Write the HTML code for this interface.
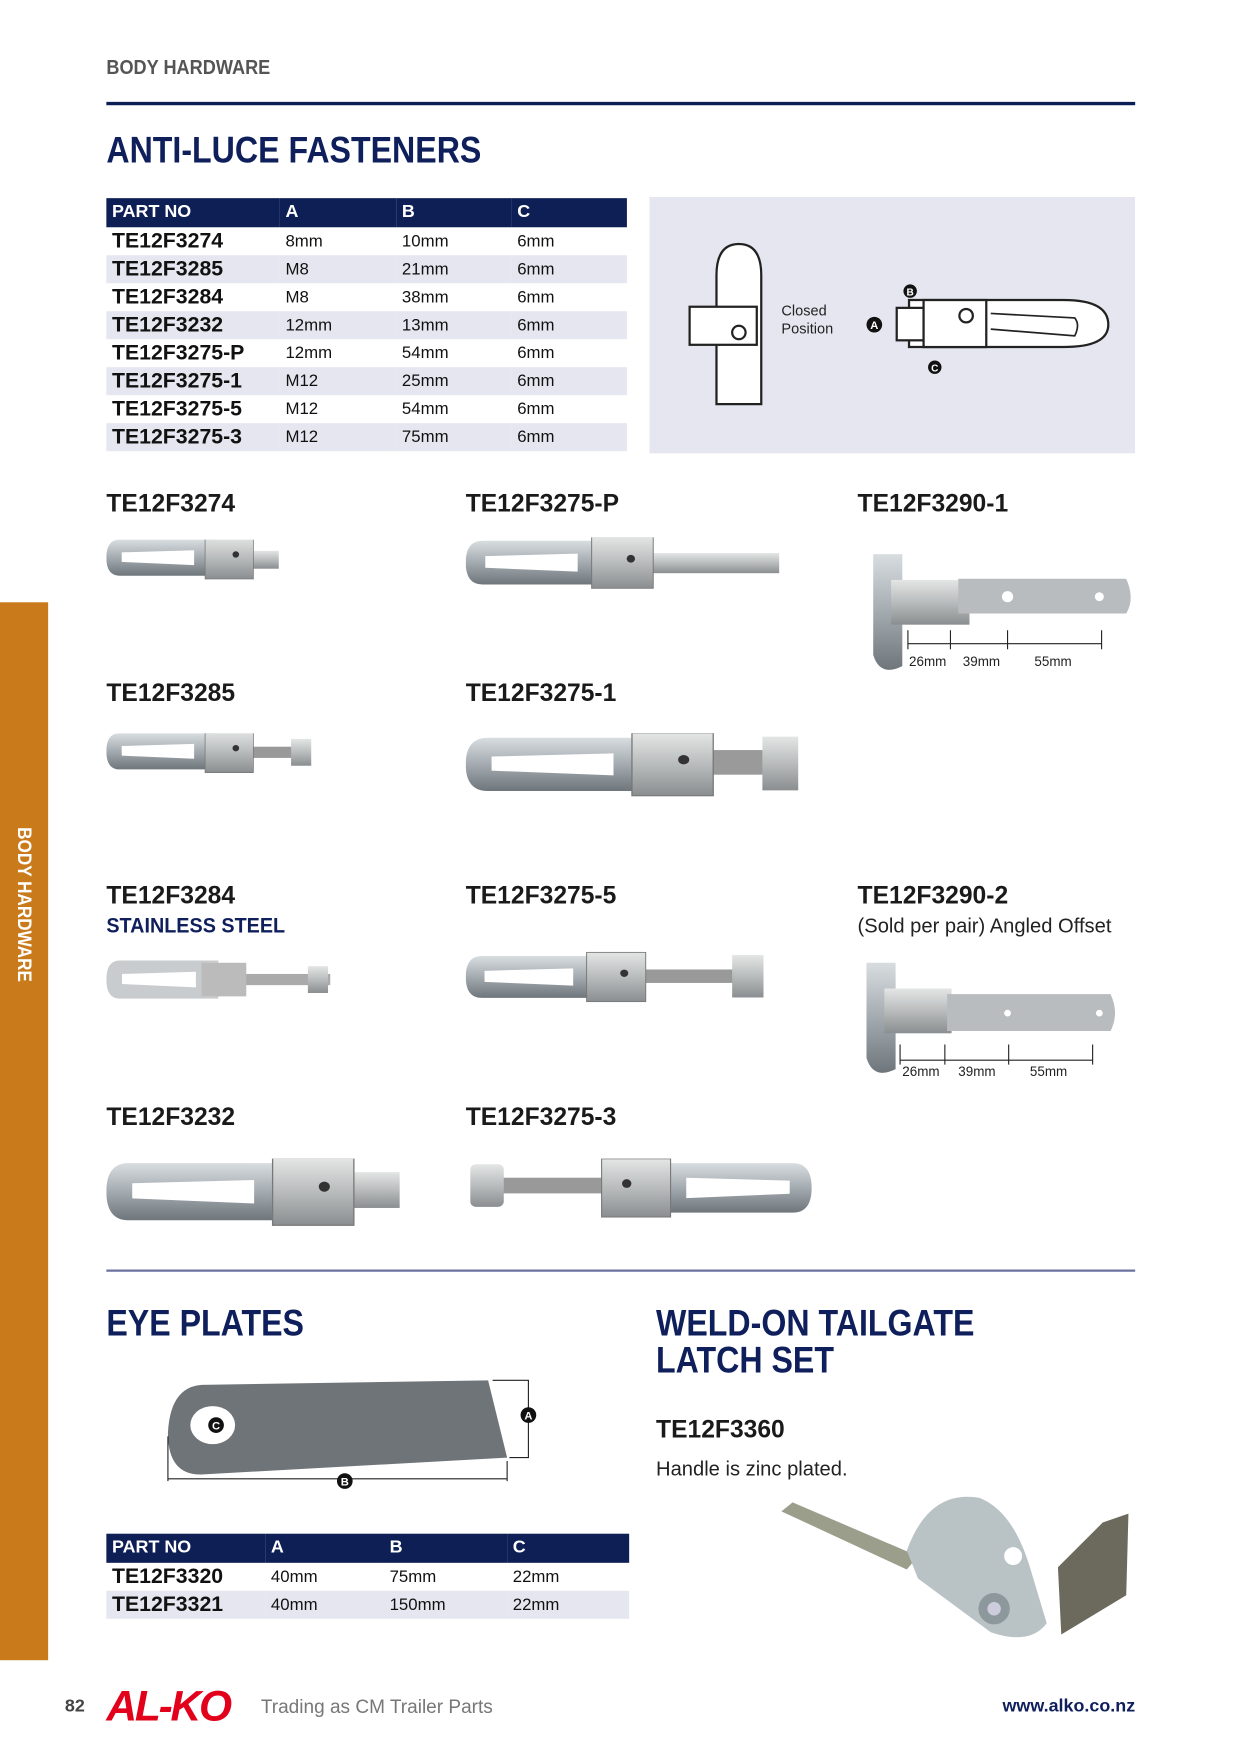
<!DOCTYPE html>
<html><head><meta charset="utf-8">
<style>
*{margin:0;padding:0;box-sizing:border-box}
html,body{width:1240px;height:1754px;background:#fff;overflow:hidden}
#p{position:absolute;left:0;top:0;width:1102px;height:1559px;transform:scale(1.1195);transform-origin:0 0;font-family:"Liberation Sans Narrow","Liberation Sans",sans-serif;color:#111}
.a{position:absolute;white-space:nowrap}
.h{font-weight:bold;color:#0e1f5b;font-size:33px;line-height:1;transform:scaleX(.87);transform-origin:0 0}
.pl{font-weight:bold;font-size:22px;line-height:1;color:#1a1a1a}
table{position:absolute;border-collapse:collapse;font-size:15px}
th{background:#0e1f55;color:#fff;text-align:left;font-weight:bold;font-size:16px;height:26px;padding-left:5px}
td{height:25px;padding-left:5px}
td:first-child{font-weight:bold;font-size:19px}
tr.g td{background:#e6e6f0}
</style></head><body><div id="p">
<svg width="0" height="0" style="position:absolute"><defs>
<linearGradient id="m" x1="0" y1="0" x2="0" y2="1"><stop offset="0" stop-color="#d8dde0"/><stop offset=".45" stop-color="#a9b0b5"/><stop offset="1" stop-color="#6f767b"/></linearGradient>
<linearGradient id="m2" x1="0" y1="0" x2="0" y2="1"><stop offset="0" stop-color="#e4e6e6"/><stop offset=".5" stop-color="#b9bcbc"/><stop offset="1" stop-color="#8a8e90"/></linearGradient>
<g id="f"><path d="M12,0 H100 V34 H12 Q0,34 0,17 Q0,0 12,0Z" fill="url(#m)"/><path d="M14,12 L80,10 L80,24 L14,21Z" fill="#fff"/><rect x="90" y="-3" width="44" height="40" fill="url(#m2)" stroke="#777" stroke-width=".7"/><circle cx="118" cy="14" r="3" fill="#333"/></g>
</defs></svg>

<div class="a" style="left:95px;top:50px;font-size:18px;font-weight:bold;color:#555;transform:scaleX(.9);transform-origin:0 0">BODY HARDWARE</div>
<div class="a" style="left:95px;top:91px;width:919px;height:3px;background:#0b1f55"></div>
<div class="a h" style="left:95px;top:117px">ANTI-LUCE FASTENERS</div>

<table style="left:95px;top:177px;width:465px">
<tr><th style="width:155px">PART NO</th><th style="width:104px">A</th><th style="width:103px">B</th><th>C</th></tr>
<tr><td>TE12F3274</td><td>8mm</td><td>10mm</td><td>6mm</td></tr>
<tr class="g"><td>TE12F3285</td><td>M8</td><td>21mm</td><td>6mm</td></tr>
<tr><td>TE12F3284</td><td>M8</td><td>38mm</td><td>6mm</td></tr>
<tr class="g"><td>TE12F3232</td><td>12mm</td><td>13mm</td><td>6mm</td></tr>
<tr><td>TE12F3275-P</td><td>12mm</td><td>54mm</td><td>6mm</td></tr>
<tr class="g"><td>TE12F3275-1</td><td>M12</td><td>25mm</td><td>6mm</td></tr>
<tr><td>TE12F3275-5</td><td>M12</td><td>54mm</td><td>6mm</td></tr>
<tr class="g"><td>TE12F3275-3</td><td>M12</td><td>75mm</td><td>6mm</td></tr>
</table>

<svg class="a" style="left:580px;top:176px" width="434" height="229">
<rect width="434" height="229" fill="#e6e6f0"/>
<g fill="#fff" stroke="#222" stroke-width="2">
<path d="M60,185 V70 Q60,42 80,42 Q100,42 100,70 V185 Z"/>
<rect x="36" y="98" width="60" height="34"/>
<circle cx="80" cy="121" r="6"/>
<path d="M232,92 H370 Q410,92 410,114 Q410,134 370,134 H232Z"/>
<rect x="221" y="99" width="24" height="29"/>
<rect x="245" y="92" width="56" height="42"/>
<circle cx="283" cy="106" r="6"/>
</g>
<path d="M305,104 L380,108 Q385,114 380,124 L305,118" fill="none" stroke="#222" stroke-width="1.5"/>
<text x="118" y="106" font-size="13" fill="#222">Closed</text><text x="118" y="122" font-size="13" fill="#222">Position</text>
<circle cx="201" cy="114" r="7" fill="#111"/><text x="201" y="118" font-size="10" fill="#fff" text-anchor="middle" font-weight="bold">A</text>
<circle cx="233" cy="84" r="6" fill="#111"/><text x="233" y="88" font-size="9" fill="#fff" text-anchor="middle" font-weight="bold">B</text>
<circle cx="255" cy="152" r="6" fill="#111"/><text x="255" y="156" font-size="9" fill="#fff" text-anchor="middle" font-weight="bold">C</text>
</svg>

<div class="a pl" style="left:95px;top:439px">TE12F3274</div>
<div class="a pl" style="left:416px;top:439px">TE12F3275-P</div>
<div class="a pl" style="left:766px;top:439px">TE12F3290-1</div>
<div class="a pl" style="left:95px;top:608px">TE12F3285</div>
<div class="a pl" style="left:416px;top:608px">TE12F3275-1</div>
<div class="a pl" style="left:95px;top:789px">TE12F3284</div>
<div class="a" style="left:95px;top:817px;font-size:19px;font-weight:bold;color:#0e1f5b;transform:scaleX(.93);transform-origin:0 0">STAINLESS STEEL</div>
<div class="a pl" style="left:416px;top:789px">TE12F3275-5</div>
<div class="a pl" style="left:766px;top:789px">TE12F3290-2</div>
<div class="a" style="left:766px;top:817px;font-size:18px;color:#222">(Sold per pair) Angled Offset</div>
<div class="a pl" style="left:95px;top:987px">TE12F3232</div>
<div class="a pl" style="left:416px;top:987px">TE12F3275-3</div>

<svg class="a" style="left:95px;top:482px" width="160" height="36"><rect x="130" y="10" width="24" height="16" fill="url(#m2)"/><use href="#f" transform="scale(.98,.95)"/></svg>
<svg class="a" style="left:416px;top:480px" width="285" height="46"><rect x="150" y="14" width="130" height="18" fill="url(#m2)"/><use href="#f" transform="translate(0,3) scale(1.25,1.15)"/></svg>
<svg class="a" style="left:95px;top:655px" width="190" height="36"><rect x="125" y="12" width="55" height="10" fill="#999"/><rect x="165" y="5" width="18" height="24" fill="url(#m2)"/><use href="#f" transform="scale(.98,.95)"/></svg>
<svg class="a" style="left:416px;top:655px" width="300" height="60"><rect x="205" y="15" width="70" height="22" fill="#9a9a9a"/><rect x="265" y="3" width="32" height="48" fill="url(#m2)"/><use href="#f" transform="translate(0,4) scale(1.65,1.4)"/></svg>
<svg class="a" style="left:95px;top:858px" width="215" height="36"><rect x="120" y="12" width="80" height="10" fill="#aaa"/><rect x="180" y="5" width="18" height="24" fill="url(#m2)"/><path d="M12,0 H100 V34 H12 Q0,34 0,17 Q0,0 12,0Z" fill="#c9ccce"/><path d="M14,12 L80,10 L80,24 L14,21Z" fill="#fff"/><rect x="85" y="2" width="40" height="30" fill="#bbb"/></svg>
<svg class="a" style="left:416px;top:850px" width="270" height="46"><rect x="150" y="16" width="100" height="12" fill="#999"/><rect x="238" y="3" width="28" height="38" fill="url(#m2)"/><use href="#f" transform="translate(0,4) scale(1.2,1.1)"/></svg>
<svg class="a" style="left:95px;top:1035px" width="265" height="62"><rect x="220" y="12" width="42" height="32" fill="url(#m2)"/><use href="#f" transform="translate(0,4) scale(1.65,1.5)"/></svg>
<svg class="a" style="left:420px;top:1035px" width="310" height="55"><rect x="20" y="17" width="130" height="14" fill="#999"/><rect x="0" y="5" width="30" height="38" rx="5" fill="url(#m2)"/><use href="#f" transform="translate(305,4) scale(-1.4,1.3)"/></svg>

<svg class="a" style="left:776px;top:490px" width="240" height="115">
<path d="M4,5 H30 V105 Q10,115 4,95Z" fill="url(#m)"/><rect x="20" y="28" width="70" height="40" fill="url(#m2)"/><path d="M80,27 H230 Q238,45 230,58 H80Z" fill="#b8bcbe"/><circle cx="124" cy="43" r="5" fill="#fff"/><circle cx="206" cy="43" r="4" fill="#fff"/>
<g stroke="#222" fill="none"><path d="M35,85 H208 M35,73 V90 M73,73 V90 M124,73 V90 M208,73 V90"/></g>
<g font-size="12" fill="#222"><text x="36" y="105">26mm</text><text x="84" y="105">39mm</text><text x="148" y="105">55mm</text></g>
</svg>
<svg class="a" style="left:770px;top:855px" width="240" height="115">
<path d="M4,5 H30 V100 Q10,110 4,90Z" fill="url(#m)"/><rect x="20" y="28" width="60" height="40" fill="url(#m2)"/><path d="M76,33 H222 Q230,50 222,66 H76Z" fill="#b8bcbe"/><circle cx="130" cy="50" r="3" fill="#fff"/><circle cx="212" cy="50" r="3" fill="#fff"/>
<g stroke="#222" fill="none"><path d="M34,92 H206 M34,78 V96 M74,78 V96 M131,78 V96 M206,78 V96"/></g>
<g font-size="12" fill="#222"><text x="36" y="106">26mm</text><text x="86" y="106">39mm</text><text x="150" y="106">55mm</text></g>
</svg>

<div class="a" style="left:95px;top:1134px;width:919px;height:2px;background:#6a72a0"></div>
<div class="a h" style="left:95px;top:1165px">EYE PLATES</div>
<div class="a h" style="left:586px;top:1165px">WELD-ON TAILGATE</div>
<div class="a h" style="left:586px;top:1198px">LATCH SET</div>

<svg class="a" style="left:140px;top:1225px" width="350" height="110">
<path d="M40,12 L296,8 L313,77 L42,92 Q10,94 10,55 Q12,14 40,12Z" fill="#6f7478"/>
<ellipse cx="50" cy="48" rx="20" ry="17" fill="#fff"/>
<circle cx="53" cy="48" r="7" fill="#111"/><text x="53" y="52" font-size="10" fill="#fff" text-anchor="middle" font-weight="bold">C</text>
<g stroke="#222" fill="none"><path d="M300,8 H332 V77 H315 M10,58 V98 M313,80 V98 M10,96 H313"/></g>
<circle cx="332" cy="39" r="7" fill="#111"/><text x="332" y="43" font-size="10" fill="#fff" text-anchor="middle" font-weight="bold">A</text>
<circle cx="168" cy="98" r="7" fill="#111"/><text x="168" y="102" font-size="10" fill="#fff" text-anchor="middle" font-weight="bold">B</text>
</svg>

<table style="left:95px;top:1370px;width:467px">
<tr><th style="width:142px">PART NO</th><th style="width:106px">A</th><th style="width:110px">B</th><th>C</th></tr>
<tr><td>TE12F3320</td><td>40mm</td><td>75mm</td><td>22mm</td></tr>
<tr class="g"><td>TE12F3321</td><td>40mm</td><td>150mm</td><td>22mm</td></tr>
</table>

<div class="a pl" style="left:586px;top:1266px">TE12F3360</div>
<div class="a" style="left:586px;top:1302px;font-size:18px;color:#222">Handle is zinc plated.</div>
<svg class="a" style="left:690px;top:1330px" width="325" height="145">
<path d="M8,20 L18,12 L130,60 L120,72Z" fill="#9a9e8a"/>
<path d="M120,55 Q140,0 185,8 Q215,20 230,70 L245,120 Q230,140 195,128 L130,80Z" fill="#b9c3c6"/>
<circle cx="215" cy="60" r="8" fill="#fff"/>
<circle cx="198" cy="107" r="14" fill="#8d989c"/><circle cx="198" cy="107" r="6" fill="#ccd"/>
<path d="M295,30 L318,22 L316,95 L258,130 L255,70Z" fill="#6c6a5c"/>
</svg>

<div class="a" style="left:0;top:538px;width:43px;height:945px;background:#c97a1a"></div>
<div class="a" style="left:21px;top:808px;transform:translate(-50%,-50%) rotate(90deg) scaleX(.9);color:#fff;font-weight:bold;font-size:17px">BODY HARDWARE</div>

<div class="a" style="left:58px;top:1516px;font-size:16px;font-weight:bold;color:#444">82</div>
<div class="a" style="left:95px;top:1504px;font-size:38px;font-weight:bold;color:#e2001a;font-family:'Liberation Sans',sans-serif;letter-spacing:-2px;font-style:italic">AL-KO</div>
<div class="a" style="left:233px;top:1515px;font-size:17px;color:#777">Trading as CM Trailer Parts</div>
<div class="a" style="right:88px;top:1516px;font-size:16px;font-weight:bold;color:#0e1f5b">www.alko.co.nz</div>
</div></body></html>
